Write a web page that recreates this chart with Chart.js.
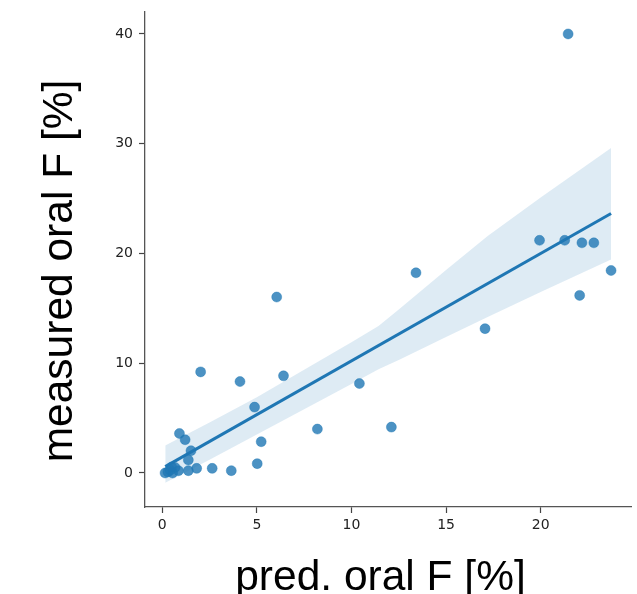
<!DOCTYPE html>
<html>
<head>
<meta charset="utf-8">
<script src="https://cdn.jsdelivr.net/npm/chart.js@4/dist/chart.umd.min.js"></script>
<style>
  html, body { margin: 0; padding: 0; background: #fff; }
  canvas { display: block; }
</style>
</head>
<body>
<canvas id="c" width="637" height="594"></canvas>
<script>
// ---- data ----
const predF = [0.15, 0.30, 0.42, 0.55, 0.68, 0.86, 0.50,
  0.91, 1.21, 1.52, 1.38, 1.38, 1.82, 2.64, 3.65, 5.02, 5.23,
  4.88, 8.20, 12.11, 2.03, 4.11, 6.41, 10.42, 6.05,
  13.41, 17.06, 19.94, 21.27, 22.18, 22.81, 23.72, 22.06, 21.45];
const measF = [0.00, 0.10, 0.25, 0.00, 0.50, 0.20, 0.55,
  3.60, 3.03, 2.03, 1.18, 0.21, 0.42, 0.42, 0.21, 0.85, 2.85,
  6.00, 4.00, 4.18, 9.21, 8.33, 8.85, 8.15, 16.03,
  18.24, 13.15, 21.20, 21.20, 20.97, 20.97, 18.45, 16.18, 40.00];

// regression line end points and confidence band
const fitX = [0.16, 23.72];
const fitY = [0.58, 23.64];
const bandX = [0.16, 2.5, 5, 7.5, 10, 11.43, 12.5, 15, 17.2, 20, 23.72];
const bandLower = [-0.9, 1.2, 3.5, 5.8, 8.1, 9.45, 10.3, 12.4, 14.2, 16.5, 19.45];
const bandUpper = [2.5, 4.6, 6.9, 9.4, 11.9, 13.4, 14.9, 18.5, 21.6, 25.1, 29.6];

const xTicks = [0, 5, 10, 15, 20];
const yTicks = [0, 10, 20, 30, 40];
const xTitle = 'pred. oral F [%]';
const yTitle = 'measured oral F [%]';

const blue = '#1f77b4';
const toXY = (xs, ys) => xs.map((x, i) => ({x: x, y: ys[i]}));

const titlePlugin = {
  id: 'axisTitles',
  afterDraw(chart) {
    const ctx = chart.ctx;
    ctx.save();
    ctx.fillStyle = '#000';
    ctx.font = '42.5px "Liberation Sans", Arial, sans-serif';
    ctx.textAlign = 'center';
    ctx.textBaseline = 'alphabetic';
    ctx.fillText(xTitle, 380.5, 590);
    ctx.translate(72, 271);
    ctx.rotate(-Math.PI / 2);
    ctx.fillText(yTitle, 0, 0);
    ctx.restore();
  }
};

const tickFont = {family: '"DejaVu Sans", sans-serif', size: 14};

new Chart(document.getElementById('c'), {
  type: 'scatter',
  data: {
    datasets: [
      {
        type: 'scatter',
        data: toXY(predF, measF),
        backgroundColor: 'rgba(31,119,180,0.8)',
        borderColor: 'rgba(31,119,180,0.8)',
        borderWidth: 0.5,
        pointRadius: 5,
        order: 0
      },
      {
        type: 'line',
        data: toXY(fitX, fitY),
        borderColor: blue,
        borderWidth: 3,
        pointRadius: 0,
        fill: false,
        order: 1
      },
      {
        type: 'line',
        data: toXY(bandX, bandLower),
        borderWidth: 0,
        borderColor: 'rgba(0,0,0,0)',
        pointRadius: 0,
        fill: false,
        order: 2
      },
      {
        type: 'line',
        data: toXY(bandX, bandUpper),
        borderWidth: 0,
        borderColor: 'rgba(0,0,0,0)',
        backgroundColor: 'rgba(31,119,180,0.15)',
        pointRadius: 0,
        fill: '-1',
        order: 3
      }
    ]
  },
  options: {
    responsive: false,
    animation: false,
    devicePixelRatio: 1,
    layout: {padding: {top: 12, right: 2, left: 0, bottom: 0}},
    plugins: {legend: {display: false}, tooltip: {enabled: false}},
    scales: {
      x: {
        type: 'linear',
        min: -0.91,
        max: 24.8,
        afterBuildTicks: s => { s.ticks = xTicks.map(v => ({value: v})); },
        afterFit: s => { s.height = 87; s.paddingLeft = 0; s.paddingRight = 0; },
        grid: {drawOnChartArea: false, drawTicks: true, tickLength: 6, tickColor: '#444', tickWidth: 1.2},
        border: {display: true, color: '#555', width: 1.3},
        ticks: {color: '#222', font: tickFont, padding: 4, maxRotation: 0}
      },
      y: {
        type: 'linear',
        min: -3.1,
        max: 42,
        afterBuildTicks: s => { s.ticks = yTicks.map(v => ({value: v})); },
        afterFit: s => { s.width = 145; s.paddingTop = 0; s.paddingBottom = 0; },
        grid: {drawOnChartArea: false, drawTicks: true, tickLength: 6, tickColor: '#444', tickWidth: 1.2},
        border: {display: true, color: '#555', width: 1.3},
        ticks: {color: '#222', font: tickFont, padding: 6}
      }
    }
  },
  plugins: [titlePlugin]
});
</script>
</body>
</html>
